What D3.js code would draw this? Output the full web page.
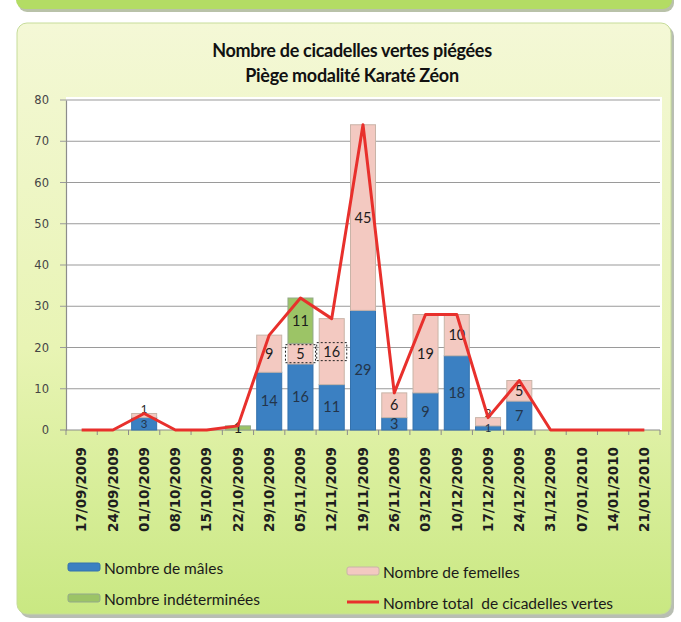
<!DOCTYPE html>
<html>
<head>
<meta charset="utf-8">
<script src="https://cdn.jsdelivr.net/npm/d3@7"></script>
<style>
  html, body { margin: 0; padding: 0; background: #ffffff; }
  svg { display: block; }
</style>
</head>
<body>
<div id="visualization"></div>
<script>
// Chart data
var dates = ["17/09/2009", "24/09/2009", "01/10/2009", "08/10/2009", "15/10/2009", "22/10/2009",
  "29/10/2009", "05/11/2009", "12/11/2009", "19/11/2009", "26/11/2009", "03/12/2009", "10/12/2009",
  "17/12/2009", "24/12/2009", "31/12/2009", "07/01/2010", "14/01/2010", "21/01/2010"];
var males = [0, 0, 3, 0, 0, 0, 14, 16, 11, 29, 3, 9, 18, 1, 7, 0, 0, 0, 0];
var females = [0, 0, 1, 0, 0, 0, 9, 5, 16, 45, 6, 19, 10, 2, 5, 0, 0, 0, 0];
var indetermined = [0, 0, 0, 0, 0, 1, 0, 11, 0, 0, 0, 0, 0, 0, 0, 0, 0, 0, 0];
var yTicks = [0, 10, 20, 30, 40, 50, 60, 70, 80];
var titleLines = ["Nombre de cicadelles vertes piégées", "Piège modalité Karaté Zéon"];

var W = 681, H = 622;
var plot = { left: 66, right: 660, top: 100, bottom: 430 };

var seriesInfo = [
  { key: "males", label: "Nombre de mâles", color: "#3b80c2", stroke: "#3572ad" },
  { key: "females", label: "Nombre de femelles", color: "#f3c9c1", stroke: "#c9b4a8" },
  { key: "indet", label: "Nombre indéterminées", color: "#9cc466", stroke: "#93a98a" }
];

var svg, x, y;

function buildRows() {
  return dates.map(function (d, i) {
    return { date: d, males: males[i], females: females[i], indet: indetermined[i],
      total: males[i] + females[i] + indetermined[i] };
  });
}

function drawFrame() {
  var defs = svg.append("defs");
  var grad = defs.append("linearGradient").attr("id", "boxGrad")
    .attr("x1", 0).attr("y1", 0).attr("x2", 0).attr("y2", 1);
  grad.append("stop").attr("offset", "0%").attr("stop-color", "#f4f8d6");
  grad.append("stop").attr("offset", "55%").attr("stop-color", "#e8f4b4");
  grad.append("stop").attr("offset", "100%").attr("stop-color", "#c9e882");

  // green panel above, only its bottom edge is visible
  svg.append("rect").attr("x", 18).attr("y", -20).attr("width", 656).attr("height", 32)
    .attr("rx", 9).attr("fill", "#8a9a70").attr("opacity", 0.6);
  svg.append("rect").attr("x", 16).attr("y", -20).attr("width", 656).attr("height", 29)
    .attr("rx", 9).attr("fill", "#b3dc64");

  // chart box
  svg.append("rect").attr("x", 20).attr("y", 26).attr("width", 654).attr("height", 592)
    .attr("rx", 10).attr("fill", "#9aa292").attr("opacity", 0.7);
  svg.append("rect").attr("x", 17).attr("y", 23).attr("width", 654).attr("height", 591)
    .attr("rx", 10).attr("fill", "url(#boxGrad)").attr("stroke", "#c6dc9a");

  // plot area
  svg.append("rect").attr("x", plot.left).attr("y", plot.top - 3)
    .attr("width", plot.right - plot.left + 2).attr("height", plot.bottom - plot.top + 3)
    .attr("fill", "#ffffff");
}

function drawTitle() {
  svg.append("g").selectAll("text")
    .data(titleLines)
    .enter().append("text")
    .attr("x", 352)
    .attr("y", function (d, i) { return 57 + i * 25; })
    .attr("text-anchor", "middle")
    .style("font-family", "Lato, 'Open Sans', sans-serif")
    .style("font-weight", "bold")
    .style("font-size", "18px")
    .style("letter-spacing", "-0.3px")
    .style("fill", "#111111")
    .text(function (d) { return d; });
}

function drawAxes() {
  // gridlines
  svg.append("g").selectAll("line")
    .data(yTicks)
    .enter().append("line")
    .attr("x1", plot.left - 6).attr("x2", plot.right)
    .attr("y1", function (d) { return y(d); })
    .attr("y2", function (d) { return y(d); })
    .attr("stroke", function (d) { return d === 0 ? "#8c8c8c" : "#9a9a9a"; })
    .attr("stroke-width", 1.2);

  var yAxis = svg.append("g")
    .attr("transform", "translate(" + plot.left + ",0)")
    .call(d3.axisLeft(y).tickValues(yTicks).tickSize(0).tickPadding(17));
  yAxis.select(".domain").attr("stroke", "#8c8c8c").attr("stroke-width", 1.2);
  yAxis.selectAll("text")
    .style("font-family", "'DejaVu Sans', Verdana, sans-serif")
    .style("font-size", "11.5px")
    .style("fill", "#454545");

  var xAxis = svg.append("g")
    .attr("transform", "translate(0," + plot.bottom + ")")
    .call(d3.axisBottom(x).tickSize(0).tickPadding(0));
  xAxis.select(".domain").remove();
  xAxis.selectAll("text")
    .attr("transform", "rotate(-90)")
    .attr("x", -17)
    .attr("y", 0)
    .attr("dy", "0.35em")
    .attr("text-anchor", "end")
    .style("font-family", "'DejaVu Sans', Verdana, sans-serif")
    .style("font-weight", "bold")
    .style("font-size", "13.5px")
    .style("fill", "#1e1e1e");

  // small tick marks between categories
  svg.append("g").selectAll("line")
    .data(d3.range(dates.length + 1))
    .enter().append("line")
    .attr("x1", function (i) { return plot.left + i * x.step(); })
    .attr("x2", function (i) { return plot.left + i * x.step(); })
    .attr("y1", plot.bottom).attr("y2", plot.bottom + 5)
    .attr("stroke", "#8c8c8c");
}

function drawBars(rows) {
  var stack = d3.stack().keys(seriesInfo.map(function (s) { return s.key; }));
  var layers = stack(rows);

  var groups = svg.append("g").selectAll("g")
    .data(layers)
    .enter().append("g")
    .attr("fill", function (d, i) { return seriesInfo[i].color; })
    .attr("stroke", function (d, i) { return seriesInfo[i].stroke; });

  groups.selectAll("rect")
    .data(function (d) { return d; })
    .enter().append("rect")
    .attr("x", function (d) { return x(d.data.date); })
    .attr("width", x.bandwidth())
    .attr("y", function (d) { return y(d[1]); })
    .attr("height", function (d) { return y(d[0]) - y(d[1]); })
    .attr("stroke-width", function (d) { return d[1] > d[0] ? 1 : 0; });

  // data labels, centred in their segment
  var labels = [];
  layers.forEach(function (layer) {
    layer.forEach(function (d) {
      var v = d[1] - d[0];
      if (v > 0) labels.push({ date: d.data.date, key: layer.key, v: v, size: 14.5, ly: y((d[0] + d[1]) / 2) });
    });
  });

  // labels that collide (thin segments) get smaller and the upper one moves up
  var byDate = d3.group(labels, function (d) { return d.date; });
  byDate.forEach(function (list) {
    for (var i = 1; i < list.length; i++) {
      if (list[i - 1].ly - list[i].ly < 15) {
        list[i - 1].size = 11.5;
        list[i].size = 11.5;
        list[i].ly = list[i - 1].ly - 15;
      }
    }
  });

  svg.append("g").selectAll("text")
    .data(labels)
    .enter().append("text")
    .attr("x", function (d) { return x(d.date) + x.bandwidth() / 2; })
    .attr("y", function (d) { return d.ly; })
    .attr("dy", "0.35em")
    .attr("text-anchor", "middle")
    .style("font-family", "Lato, 'Open Sans', sans-serif")
    .style("font-size", function (d) { return d.size + "px"; })
    .style("fill", function (d) { return d.key === "males" ? "#23354a" : "#1c1c1c"; })
    .text(function (d) { return d.v; });

  // the two selected labels in the picture carry a dashed frame
  var framed = labels.filter(function (d) {
    return d.key === "females" && (d.date === "05/11/2009" || d.date === "12/11/2009");
  });
  svg.append("g").selectAll("rect")
    .data(framed)
    .enter().append("rect")
    .attr("x", function (d) { return x(d.date) + x.bandwidth() / 2 - 15; })
    .attr("y", function (d) { return d.ly - 9; })
    .attr("width", 30).attr("height", 18)
    .attr("fill", "none")
    .attr("stroke", "#222")
    .attr("stroke-dasharray", "2,2");
}

function drawLine(rows) {
  var line = d3.line()
    .x(function (d) { return x(d.date) + x.bandwidth() / 2; })
    .y(function (d) { return y(d.total); });

  svg.append("path")
    .datum(rows)
    .attr("fill", "none")
    .attr("stroke", "#e8302c")
    .attr("stroke-width", 3)
    .attr("stroke-linejoin", "round")
    .attr("d", line);
}

function drawLegend() {
  var items = [
    { label: seriesInfo[0].label, type: "box", s: seriesInfo[0], x: 68, y: 574 },
    { label: seriesInfo[1].label, type: "box", s: seriesInfo[1], x: 347, y: 578 },
    { label: seriesInfo[2].label, type: "box", s: seriesInfo[2], x: 68, y: 605 },
    { label: "Nombre total  de cicadelles vertes", type: "line", x: 347, y: 609 }
  ];

  var g = svg.append("g").selectAll("g")
    .data(items)
    .enter().append("g")
    .attr("transform", function (d) { return "translate(" + d.x + "," + d.y + ")"; });

  g.filter(function (d) { return d.type === "box"; })
    .append("rect")
    .attr("x", 0).attr("y", -11).attr("width", 32).attr("height", 8).attr("rx", 2)
    .attr("fill", function (d) { return d.s.color; })
    .attr("stroke", function (d) { return d.s.stroke; });

  g.filter(function (d) { return d.type === "line"; })
    .append("line")
    .attr("x1", 0).attr("x2", 32).attr("y1", -7).attr("y2", -7)
    .attr("stroke", "#e8302c").attr("stroke-width", 3);

  g.append("text")
    .attr("x", 36).attr("y", 0)
    .style("font-family", "Lato, 'Open Sans', sans-serif")
    .style("font-size", "15.5px")
    .style("fill", "#1a1a1a")
    .style("white-space", "pre")
    .attr("xml:space", "preserve")
    .text(function (d) { return d.label; });
}

(function () {
  var rows = buildRows();

  svg = d3.select("#visualization")
    .append("svg")
    .attr("width", W)
    .attr("height", H);

  x = d3.scaleBand().domain(dates).range([plot.left, plot.right])
    .paddingInner(0.2).paddingOuter(0.1);
  y = d3.scaleLinear().domain([0, 80]).range([plot.bottom, plot.top]);

  drawFrame();
  drawTitle();
  drawAxes();
  drawBars(rows);
  drawLine(rows);
  drawLegend();
}());
</script>
</body>
</html>
